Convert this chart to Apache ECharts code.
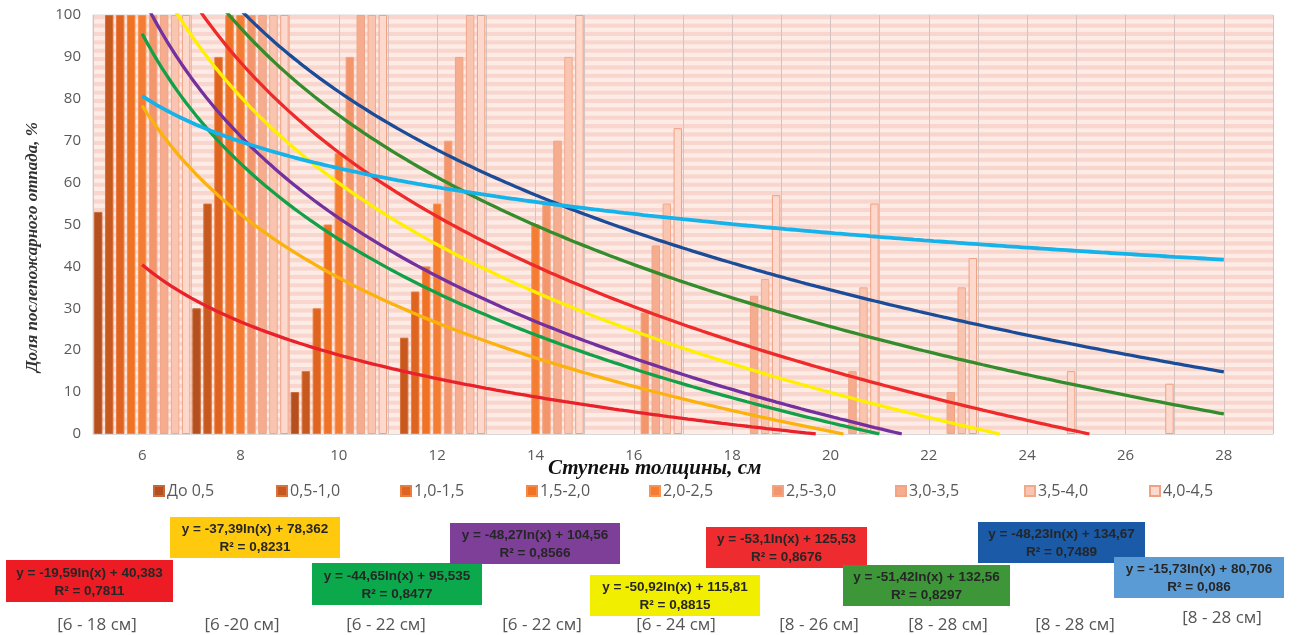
<!DOCTYPE html>
<html><head><meta charset="utf-8">
<script src="https://cdn.jsdelivr.net/npm/echarts@6/dist/echarts.min.js"></script>
<style>html,body{margin:0;padding:0;background:#fff}#c{width:1297px;height:635px}</style>
</head><body><div id="c"></div>
<script>
// ---- data ----
const categories = ['6','8','10','12','14','16','18','20','22','24','26','28'];
const seriesNames = ['До 0,5','0,5-1,0','1,0-1,5','1,5-2,0','2,0-2,5','2,5-3,0','3,0-3,5','3,5-4,0','4,0-4,5'];
const v00_05 = [53, 30, 10, null, null, null, null, null, null, null, null, null];
const v05_10 = [100, 55, 15, 23, null, null, null, null, null, null, null, null];
const v10_15 = [100, 90, 30, 34, null, null, null, null, null, null, null, null];
const v15_20 = [100, 100, 50, 40, null, null, null, null, null, null, null, null];
const v20_25 = [100, 100, 67, 55, 50, null, null, null, null, null, null, null];
const v25_30 = [100, 100, 90, 70, 55, 29, null, null, null, null, null, null];
const v30_35 = [100, 100, 100, 90, 70, 45, 33, 15, 10, null, null, null];
const v35_40 = [100, 100, 100, 100, 90, 55, 37, 35, 35, null, null, null];
const v40_45 = [100, 100, 100, 100, 100, 73, 57, 55, 42, 15, 12, null];
const barValues = [v00_05, v05_10, v10_15, v15_20, v20_25, v25_30, v30_35, v35_40, v40_45];

// logarithmic trend lines shown in the chart: y = a*ln(x) + b (x = category index, 1 at "6")
const trendA = [-19.59, -37.39, -44.65, -48.27, -50.92, -53.1, -51.42, -48.23, -15.73];
const trendB = [40.383, 78.362, 95.535, 104.56, 115.81, 125.53, 132.56, 134.67, 80.706];
const trendR2 = [0.7811, 0.8231, 0.8477, 0.8566, 0.8815, 0.8676, 0.8297, 0.7489, 0.086];
const trendRanges = ['[6 - 18 см]','[6 -20 см]','[6 - 22 см]','[6 - 22 см]','[6 - 24 см]','[8 - 26 см]','[8 - 28 см]','[8 - 28 см]','[8 - 28 см]'];
const yTicks = [0,10,20,30,40,50,60,70,80,90,100];

// ---- styles / layout ----
const barColors = ['#b4501e','#c8591e','#df641f','#ef7225','#f47d33','#f3966c','#f6ad8f','#f9c5b1','#fcd9cc'];
const barBorders = ['#c8683a','#d8723e','#ea7d42','#f48a48','#f69452','#f1a586','#f0a385','#f1a98c','#f0a183'];
const lineColors = ['#e8212b','#fbb20c','#12a14a','#7331a0','#fff000','#ee2a2a','#348c2c','#1a4c98','#16b2ea'];
const boxColors = ['#ed1c24','#ffc90e','#0ca84c','#7e3f98','#f2ee00','#ee2b2f','#3d9637','#1a5aa6','#5b9bd5'];
const boxLayout = [[6,560,167,42],[170,517,170,41],[312,563,170,42],[450,523,170,41],[590,575,170,41],[706,527,161,41],[843,565,167,41],[978,522,167,41],[1114,557,170,41]];
const rangePos = [[97,625],[242,625],[386,625],[542,625],[676,625],[819,625],[948,625],[1075,625],[1222,618]];
const legendLeft = [148,271,395,521,644,767,890,1019,1144];

const fmt = v => String(v).replace('.', ',');

function trendPoints(a, b) {
  const pts = [];
  for (let d = 6; d <= 28.0001; d += 0.1) {
    const x = (d - 6) / 2 + 1;
    const y = a * Math.log(x) + b;
    if (y < 0) {
      const x0 = Math.exp(-b / a);
      pts.push([6 + 2 * (x0 - 1), 0]);
      break;
    }
    pts.push([d, y]);
  }
  return pts;
}

const series = [];
seriesNames.forEach((n, i) => {
  series.push({
    type: 'bar', name: n, data: barValues[i], xAxisIndex: 0, yAxisIndex: 0,
    barGap: '30%', barCategoryGap: '2%',
    itemStyle: { color: barColors[i], borderColor: barBorders[i], borderWidth: 1 },
    emphasis: { disabled: true }, z: 2
  });
});
trendA.forEach((a, i) => {
  series.push({
    type: 'line', name: 'trend' + i, data: trendPoints(a, trendB[i]), xAxisIndex: 1, yAxisIndex: 0,
    showSymbol: false, symbol: 'none', clip: true,
    lineStyle: { color: lineColors[i], width: i === 8 ? 3.8 : 3.3 }, z: 5, silent: true
  });
});

const graphic = [];
graphic.push({ type: 'text', left: 548, top: 458, style: { text: 'Ступень толщины, см', font: 'italic bold 21px "Liberation Serif"', fill: '#111' } });
graphic.push({ type: 'text', x: 24, y: 372, rotation: Math.PI / 2, style: { text: 'Доля послепожарного отпада, %', font: 'italic bold 17px "Liberation Serif"', fill: '#333' } });
trendA.forEach((a, i) => {
  const [x, y, w, h] = boxLayout[i];
  graphic.push({ type: 'rect', shape: { x: x, y: y, width: w, height: h }, style: { fill: boxColors[i] }, z: 10 });
  graphic.push({ type: 'text', x: x + w / 2, y: y + h / 2 + 1, z: 11, style: {
    text: 'y = ' + fmt(a) + 'ln(x) + ' + fmt(trendB[i]) + '\nR² = ' + fmt(trendR2[i]),
    align: 'center', verticalAlign: 'middle', lineHeight: 18,
    font: 'bold 13.5px "Liberation Sans"', fill: '#262626' } });
  graphic.push({ type: 'text', x: rangePos[i][0], y: rangePos[i][1], z: 11, style: {
    text: trendRanges[i], align: 'center', verticalAlign: 'middle', font: '17px "Open Sans"', fill: '#555' } });
});

const legend = seriesNames.map((n, i) => ({
  data: [n], left: legendLeft[i], top: 478, icon: 'rect', itemWidth: 10, itemHeight: 10, itemGap: 4,
  textStyle: { color: '#595959', fontSize: 16, fontFamily: 'Open Sans', padding: [0, 0, 0, -2] },
  selectedMode: false
}));

const chart = echarts.init(document.getElementById('c'), null, { renderer: 'canvas' });
chart.setOption({
  animation: false,
  backgroundColor: '#fff',
  grid: { left: 93, right: 24, top: 15, bottom: 201, show: true, borderColor: '#d9d9d9', borderWidth: 1, backgroundColor: '#fce6e0' },
  legend: legend,
  xAxis: [
    { type: 'category', data: categories, boundaryGap: true, position: 'bottom',
      axisLine: { lineStyle: { color: '#d9d9d9' } }, axisTick: { show: false },
      axisLabel: { color: '#595959', fontSize: 15, fontFamily: 'Open Sans', margin: 14 }, splitLine: { show: false } },
    { type: 'value', min: 5, max: 29, interval: 1, position: 'bottom', z: 1,
      axisLine: { show: false }, axisTick: { show: false }, axisLabel: { show: false },
      splitLine: { show: true, lineStyle: { color: '#d6c3c0', width: 1 } } }
  ],
  yAxis: [
    { type: 'value', min: 0, max: 100, interval: 10, data: yTicks,
      axisLine: { show: false }, axisTick: { show: false },
      axisLabel: { color: '#595959', fontSize: 15, fontFamily: 'Open Sans', margin: 12 }, splitLine: { show: false } },
    { type: 'value', min: 0, max: 100, interval: 1, position: 'left', z: 0,
      axisLine: { show: false }, axisTick: { show: false }, axisLabel: { show: false },
      splitLine: { show: false },
      splitArea: { show: true, areaStyle: { color: ['#fdebe6', '#f8d6cd'] } } }
  ],
  series: series,
  graphic: graphic
});
</script></body></html>
